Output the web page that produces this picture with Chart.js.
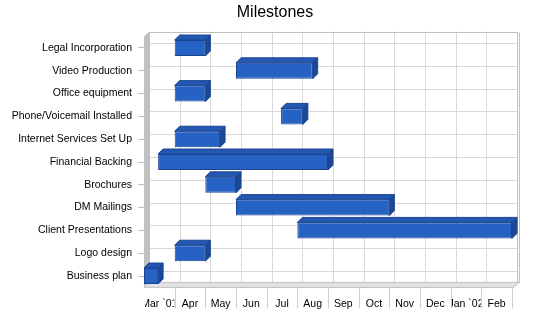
<!DOCTYPE html>
<html><head><meta charset="utf-8">
<script src="https://cdn.jsdelivr.net/npm/chart.js@4"></script>
<style>html,body{margin:0;padding:0;background:#fff}#wrap{width:550px;height:318px}</style>
</head><body><div id="wrap"><canvas id="c" width="550" height="318"></canvas></div>
<script>
const categories = ['Legal Incorporation','Video Production','Office equipment','Phone/Voicemail Installed','Internet Services Set Up','Financial Backing','Brochures','DM Mailings','Client Presentations','Logo design','Business plan'];
// months counted from the start of Mar 2001
const startMonths = [1, 3, 1, 4.47, 1, 0.46, 2, 3, 5, 1, 0];
const endMonths   = [2, 5.5, 2, 5.18, 2.48, 6, 3, 8, 12, 2, 0.46];
const monthLabels = ['Mar `01','Apr','May','Jun','Jul','Aug','Sep','Oct','Nov','Dec','Jan `02','Feb'];

const DX = 5, DY = 5;
const FRONT = '#2662c4', TOP = '#2357b0', SIDE = '#1c4898', EDGE = '#1b4593';
const FONT = "'Liberation Sans', Arial, sans-serif";

Chart.defaults.font.family = FONT;
Chart.defaults.color = '#000';

const wallPlugin = {
  id: 'wall3d',
  beforeDraw(chart) {
    const {ctx, chartArea: a, scales: {x, y}} = chart;
    ctx.save();
    const bl = a.left + DX, bt = a.top - DY, br = a.right + DX, bb = a.bottom - DY;
    ctx.fillStyle = '#fff';
    ctx.fillRect(bl, bt, br - bl, bb - bt);
    ctx.lineWidth = 1;
    ctx.strokeStyle = '#d9d9d9';
    ctx.beginPath();
    for (let k = 1; k < monthLabels.length; k++) {
      const px = Math.round(x.getPixelForValue(k) + DX) + 0.5;
      ctx.moveTo(px, bt); ctx.lineTo(px, bb);
    }
    categories.forEach((c, i) => {
      const py = Math.round(y.getPixelForValue(i) - DY) + 0.5;
      ctx.moveTo(bl, py); ctx.lineTo(br, py);
    });
    ctx.stroke();
    ctx.strokeStyle = '#c0c0c0';
    ctx.strokeRect(Math.round(bl) + 0.5, Math.round(bt) + 0.5, Math.round(br - bl), Math.round(bb - bt));
    ctx.beginPath();
    ctx.moveTo(Math.round(br) + 2.5, Math.round(bt) + 0.5);
    ctx.lineTo(Math.round(br) + 2.5, Math.round(bb) + 1);
    ctx.stroke();
    // left wall
    ctx.fillStyle = '#c0c0c0';
    ctx.beginPath();
    ctx.moveTo(a.left, a.top); ctx.lineTo(bl, bt); ctx.lineTo(bl, bb); ctx.lineTo(a.left, a.bottom);
    ctx.closePath(); ctx.fill();
    // floor
    ctx.fillStyle = '#e2e2e2';
    ctx.beginPath();
    ctx.moveTo(a.left, a.bottom); ctx.lineTo(bl, bb); ctx.lineTo(br + 2, bb); ctx.lineTo(a.right + 2, a.bottom);
    ctx.closePath(); ctx.fill();
    ctx.strokeStyle = '#c0c0c0';
    ctx.stroke();
    // separators below the floor
    ctx.strokeStyle = '#cfcfcf';
    ctx.beginPath();
    for (let k = 1; k <= monthLabels.length; k++) {
      const px = Math.round(x.getPixelForValue(k)) + 0.5;
      ctx.moveTo(px, a.bottom); ctx.lineTo(px, a.bottom + 21);
    }
    ctx.stroke();
    ctx.restore();
  },
  beforeDatasetsDraw(chart) {
    const ctx = chart.ctx;
    const meta = chart.getDatasetMeta(0);
    ctx.save();
    ctx.lineWidth = 1;
    ctx.strokeStyle = EDGE;
    meta.data.forEach(el => {
      const p = el.getProps(['x', 'y', 'base', 'height'], true);
      const L = Math.min(p.x, p.base), R = Math.max(p.x, p.base);
      const T = p.y - p.height / 2, B = p.y + p.height / 2;
      ctx.fillStyle = TOP;
      ctx.beginPath();
      ctx.moveTo(L, T); ctx.lineTo(L + DX, T - DY); ctx.lineTo(R + DX, T - DY); ctx.lineTo(R, T);
      ctx.closePath(); ctx.fill(); ctx.stroke();
      ctx.fillStyle = SIDE;
      ctx.beginPath();
      ctx.moveTo(R, T); ctx.lineTo(R + DX, T - DY); ctx.lineTo(R + DX, B - DY); ctx.lineTo(R, B);
      ctx.closePath(); ctx.fill(); ctx.stroke();
    });
    ctx.restore();
  },
  afterDraw(chart) {
    // month labels, each clipped to its own month cell
    const {ctx, chartArea: a, scales: {x}} = chart;
    ctx.save();
    ctx.font = '10.5px ' + FONT;
    ctx.fillStyle = '#000';
    ctx.textAlign = 'center';
    ctx.textBaseline = 'alphabetic';
    monthLabels.forEach((m, i) => {
      const x0 = x.getPixelForValue(i), x1 = x.getPixelForValue(i + 1);
      ctx.save();
      ctx.beginPath();
      ctx.rect(x0 + 1, a.bottom, x1 - x0 - 1.5, 30);
      ctx.clip();
      ctx.fillText(m, x.getPixelForValue(i + 0.5), 306.5);
      ctx.restore();
    });
    ctx.restore();
  }
};

new Chart(document.getElementById('c'), {
  type: 'bar',
  data: {
    labels: categories,
    datasets: [{
      data: categories.map((c, i) => [startMonths[i], endMonths[i]]),
      backgroundColor: FRONT,
      borderColor: EDGE,
      borderWidth: 1,
      borderSkipped: false,
      barPercentage: 0.7,
      categoryPercentage: 1
    }]
  },
  options: {
    indexAxis: 'y',
    responsive: false,
    animation: false,
    layout: {padding: 0},
    plugins: {
      legend: {display: false},
      tooltip: {enabled: false},
      title: {display: true, text: 'Milestones', color: '#000', font: {size: 16, weight: 'normal'}, padding: {top: 3, bottom: 14.4}}
    },
    scales: {
      x: {
        type: 'linear', min: 0, max: 12, position: 'bottom',
        grid: {display: false, drawTicks: false},
        border: {display: false},
        ticks: {display: false},
        afterFit(s) { s.height = 30.6; }
      },
      y: {
        type: 'category',
        grid: {offset: false, drawOnChartArea: false, tickLength: 6, color: '#c0c0c0'},
        border: {display: false},
        ticks: {padding: 6, color: '#000', font: {size: 10.5}, autoSkip: false},
        afterFit(s) { s.width = 144; }
      },
      yRight: {
        type: 'linear', axis: 'y', position: 'right', display: true,
        grid: {display: false, drawTicks: false},
        border: {display: false},
        ticks: {display: false},
        afterFit(s) { s.width = 38; }
      }
    }
  },
  plugins: [wallPlugin]
});
</script>
</body></html>
